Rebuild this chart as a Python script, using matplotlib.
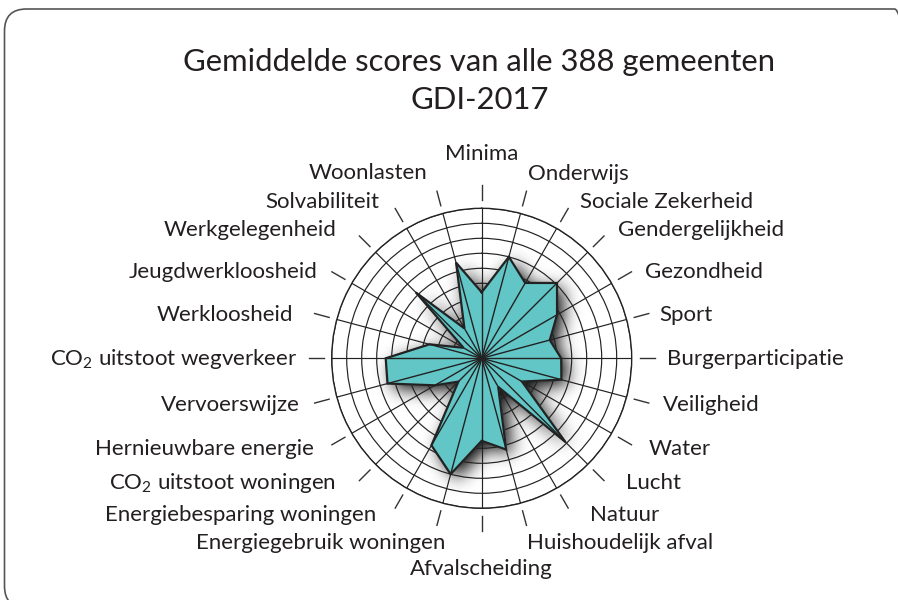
import numpy as np
import matplotlib
matplotlib.use("Agg")
import matplotlib.pyplot as plt
from matplotlib.path import Path
from matplotlib.patches import FancyBboxPatch, Circle

categories = [
    "Minima", "Onderwijs", "Sociale Zekerheid", "Gendergelijkheid", "Gezondheid",
    "Sport", "Burgerparticipatie", "Veiligheid", "Water", "Lucht", "Natuur",
    "Huishoudelijk afval", "Afvalscheiding", "Energiegebruik woningen",
    "Energiebesparing woningen", r"CO$_{\mathregular{2}}$ uitstoot woningen",
    "Hernieuwbare energie", "Vervoerswijze", r"CO$_{\mathregular{2}}$ uitstoot wegverkeer",
    "Werkloosheid", "Jeugdwerkloosheid", "Werkgelegenheid", "Solvabiliteit", "Woonlasten",
]
values = [4.4, 7.0, 5.8, 7.1, 5.8, 4.7, 5.3, 5.5, 3.1, 7.9, 2.2, 6.3,
          5.5, 8.0, 6.7, 2.2, 3.6, 6.5, 6.4, 3.6, 1.4, 6.2, 2.3, 6.6]
rings = list(range(1, 11))
title_lines = ["Gemiddelde scores van alle 388 gemeenten", "GDI-2017"]

# label anchor offsets from the chart centre, in pixels (layout only)
label_offsets_px = [
    (0, 206), (46, 186), (98, 158), (136, 130), (163, 88), (178, 45),
    (185, 1), (181, -45), (167, -89), (144, -123), (108, -155), (45, -183),
    (0, -209), (-36, -183), (-105, -155), (-146, -123), (-168, -89), (-182, -45),
    (-184, 1), (-189, 45), (-164, 88), (-145, 130), (-102, 158), (-54, 187),
]
label_shift_down_px = 2.0

FONT = "Lato"
plt.rcParams["font.family"] = [FONT, "DejaVu Sans"]
plt.rcParams["mathtext.fontset"] = "custom"
plt.rcParams["mathtext.rm"] = FONT
plt.rcParams["mathtext.it"] = FONT + ":italic"
plt.rcParams["mathtext.bf"] = FONT + ":bold"

W, H = 898, 600
fig = plt.figure(figsize=(W / 100, H / 100), dpi=100)
fig.patch.set_facecolor("white")

cx, cy, R = 481.7, 358.3, 150.0
rect = [(cx - R) / W, (H - cy - R) / H, 2 * R / W, 2 * R / H]
rmax = rings[-1]
px_per_unit = R / rmax

n = len(values)
theta = np.arange(n) * 2 * np.pi / n
vals = np.array(values)

# ---- drop shadow (computed from the data polygon) ----
sax = fig.add_axes(rect, zorder=0)
sax.set_xlim(-rmax, rmax)
sax.set_ylim(-rmax, rmax)
sax.axis("off")
N = 420
g = np.linspace(-rmax, rmax, N)
GX, GY = np.meshgrid(g, g)
off = 0.38
poly = np.column_stack([vals * np.sin(theta) + off, vals * np.cos(theta) - off])
mask = Path(poly).contains_points(np.column_stack([GX.ravel(), GY.ravel()])).reshape(N, N).astype(float)
sig = 12.0
k = np.arange(-int(4 * sig), int(4 * sig) + 1)
ker = np.exp(-0.5 * (k / sig) ** 2)
ker /= ker.sum()
blur = np.apply_along_axis(lambda r: np.convolve(r, ker, mode="same"), 1, mask)
blur = np.apply_along_axis(lambda c: np.convolve(c, ker, mode="same"), 0, blur)
rgba = np.zeros((N, N, 4))
rgba[..., 3] = np.clip(blur * 1.0, 0, 1)
im = sax.imshow(rgba, extent=[-rmax, rmax, -rmax, rmax], origin="lower", interpolation="bilinear")
clipc = Circle((0, 0), rmax, transform=sax.transData)
im.set_clip_path(clipc)

# ---- polar chart ----
ax = fig.add_axes(rect, projection="polar", zorder=1)
ax.patch.set_alpha(0)
ax.set_theta_zero_location("N")
ax.set_theta_direction(-1)
ax.set_ylim(0, rmax)
ax.set_yticks(rings)
ax.set_yticklabels([])
ax.set_xticks(theta)
ax.set_xticklabels([])
ax.grid(True, color="#222222", lw=0.85)
ax.spines["polar"].set_color("#222222")
ax.spines["polar"].set_linewidth(1.0)

tc = np.append(theta, theta[0])
vc = np.append(vals, vals[0])
ax.fill(tc, vc, color="#63c6c6", zorder=3)
for t, v in zip(theta, vals):
    ax.plot([t, t], [0, v], color="#222222", lw=1.0, zorder=4)
ax.plot(tc, vc, color="#222222", lw=1.6, zorder=5, solid_joinstyle="miter")

# outer tick dashes
for t in theta:
    ax.plot([t, t], [rmax * 1.053, rmax * 1.153], color="#333333", lw=1.0, clip_on=False)

# category labels
for lab, (dx, dy) in zip(categories, label_offsets_px):
    if abs(dx) < 1:
        ha = "center"
    else:
        ha = "left" if dx > 0 else "right"
    dy = dy - label_shift_down_px
    lt = np.arctan2(dx, dy)
    lr = np.hypot(dx, dy) / px_per_unit
    ax.text(lt, lr, lab, ha=ha, va="center", fontsize=16, color="#231f20", clip_on=False)

# title
fig.text(479 / W, 1 - 62 / H, title_lines[0], ha="center", va="center", fontsize=22.3, color="#231f20")
fig.text(480 / W, 1 - 100 / H, title_lines[1], ha="center", va="center", fontsize=22.3, color="#231f20")

# rounded border
border = FancyBboxPatch((4.5, -8), 912, 600 - 9 + 8, boxstyle="round,pad=0,rounding_size=22",
                        transform=None, fill=False, ec="#555555", lw=1.2)
fig.add_artist(border)

fig.savefig("out.png", dpi=100, facecolor="white")
